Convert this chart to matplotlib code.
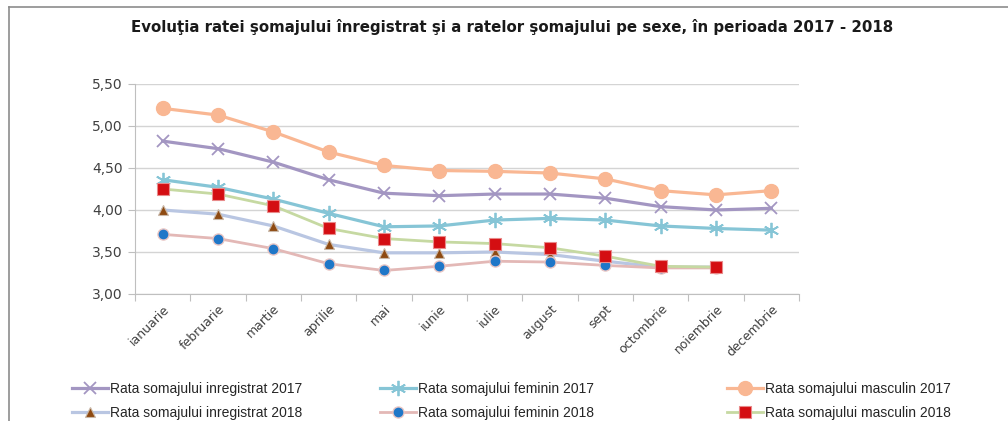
import matplotlib.pyplot as plt
from matplotlib.lines import Line2D
import matplotlib.transforms as mtransforms

# data
luni = ['ianuarie', 'februarie', 'martie', 'aprilie', 'mai', 'iunie',
        'iulie', 'august', 'sept', 'octombrie', 'noiembrie', 'decembrie']

inreg_2017 = [4.82, 4.73, 4.57, 4.36, 4.20, 4.17, 4.19, 4.19, 4.14, 4.04, 4.00, 4.02]
fem_2017 = [4.36, 4.27, 4.13, 3.96, 3.80, 3.81, 3.88, 3.90, 3.88, 3.81, 3.78, 3.76]
masc_2017 = [5.21, 5.13, 4.93, 4.69, 4.53, 4.47, 4.46, 4.44, 4.37, 4.23, 4.18, 4.23]

inreg_2018 = [4.00, 3.95, 3.81, 3.59, 3.49, 3.49, 3.50, 3.47, 3.39, 3.32, 3.32]
fem_2018 = [3.71, 3.66, 3.54, 3.36, 3.28, 3.33, 3.39, 3.38, 3.34, 3.31, 3.31]
masc_2018 = [4.25, 4.19, 4.05, 3.78, 3.66, 3.62, 3.60, 3.55, 3.45, 3.33, 3.32]

fig = plt.figure(figsize=(10.08, 4.21), dpi=100)
ax = fig.add_axes([0.1339, 0.3017, 0.6587, 0.4988])

x17 = range(len(luni))
x18 = range(len(inreg_2018))

asterisk = (6, 2, 0)

ax.plot(x17, inreg_2017, color='#A396C2', lw=2.3, marker='x', ms=8, mew=1.3,
        label='Rata somajului inregistrat 2017', zorder=3)
ax.plot(x17, fem_2017, color='#86C5D6', lw=2.3, marker=asterisk, ms=11, mew=1.3,
        label='Rata somajului feminin 2017', zorder=3)
ax.plot(x17, masc_2017, color='#F9B793', lw=2.3, marker='o', ms=10,
        label='Rata somajului masculin 2017', zorder=3)

ax.plot(x18, inreg_2018, color='#B9C6E2', lw=2.3, marker='^', ms=7,
        mfc='#8E4A12', mec='#C9B8A8', mew=0.8,
        label='Rata somajului inregistrat 2018', zorder=4)
ax.plot(x18, fem_2018, color='#E3B8B6', lw=2.0, marker='o', ms=8,
        mfc='#1F77C8', mec='#E9C6C4', mew=1.0,
        label='Rata somajului feminin 2018', zorder=4)
ax.plot(x18, masc_2018, color='#C6D9A2', lw=2.0, marker='s', ms=8.5,
        mfc='#D40E12', mec='#E88A8A', mew=0.8,
        label='Rata somajului masculin 2018', zorder=5)

ax.set_xlim(-0.5, len(luni) - 0.5)
ax.set_ylim(3.0, 5.5)
ax.set_yticks([3.0, 3.5, 4.0, 4.5, 5.0, 5.5])
ax.set_yticklabels([f'{v:.2f}'.replace('.', ',') for v in ax.get_yticks()])
ax.yaxis.grid(True, color='#D4D4D4', lw=1.0)
ax.set_axisbelow(True)

# category boundaries as ticks, labels at the centres
ax.set_xticks([i - 0.5 for i in range(len(luni) + 1)])
ax.set_xticklabels([])
ax.set_xticks(list(x17), minor=True)
ax.set_xticklabels(luni, minor=True, rotation=45, ha='right', rotation_mode='anchor',
                   fontsize=9, color='#404040')
offset = mtransforms.ScaledTranslation(10 / 100, 0, fig.dpi_scale_trans)
for lab in ax.get_xticklabels(minor=True):
    lab.set_transform(lab.get_transform() + offset)
ax.tick_params(axis='x', which='minor', length=0, pad=6)
ax.tick_params(axis='x', which='major', length=5, color='#BFBFBF', direction='out')
ax.tick_params(axis='y', length=5, color='#BFBFBF', labelsize=10, labelcolor='#404040', pad=4)

for s in ['top', 'right']:
    ax.spines[s].set_visible(False)
for s in ['left', 'bottom']:
    ax.spines[s].set_color('#BFBFBF')

fig.text(0.508, 1 - 27 / 421,
         'Evoluţia ratei şomajului înregistrat şi a ratelor şomajului pe sexe, în perioada 2017 - 2018',
         ha='center', va='center', fontsize=10.8, fontweight='bold', color='#1A1A1A')

# frame lines of the original picture
fig.add_artist(Line2D([9 / 1008, 1.0], [1 - 7 / 421] * 2, color='#8C8C8C', lw=1.2))
fig.add_artist(Line2D([9 / 1008] * 2, [0, 1 - 7 / 421], color='#8C8C8C', lw=1.2))

handles, labels = ax.get_legend_handles_labels()
cols = [(0, 3, 70), (1, 4, 378), (2, 5, 725)]
for a, b, xpos in cols:
    leg = fig.legend([handles[a], handles[b]], [labels[a], labels[b]],
                     loc='upper left', bbox_to_anchor=(xpos / 1008 - 0.004, 1 - 376 / 421),
                     frameon=False, handlelength=2.6, handletextpad=0.2,
                     labelspacing=0.75, borderaxespad=0,
                     prop={'family': ['Liberation Sans Narrow', 'Liberation Sans'], 'size': 10})
    for t in leg.get_texts():
        t.set_color('#262626')

fig.savefig('out.png', dpi=100)
